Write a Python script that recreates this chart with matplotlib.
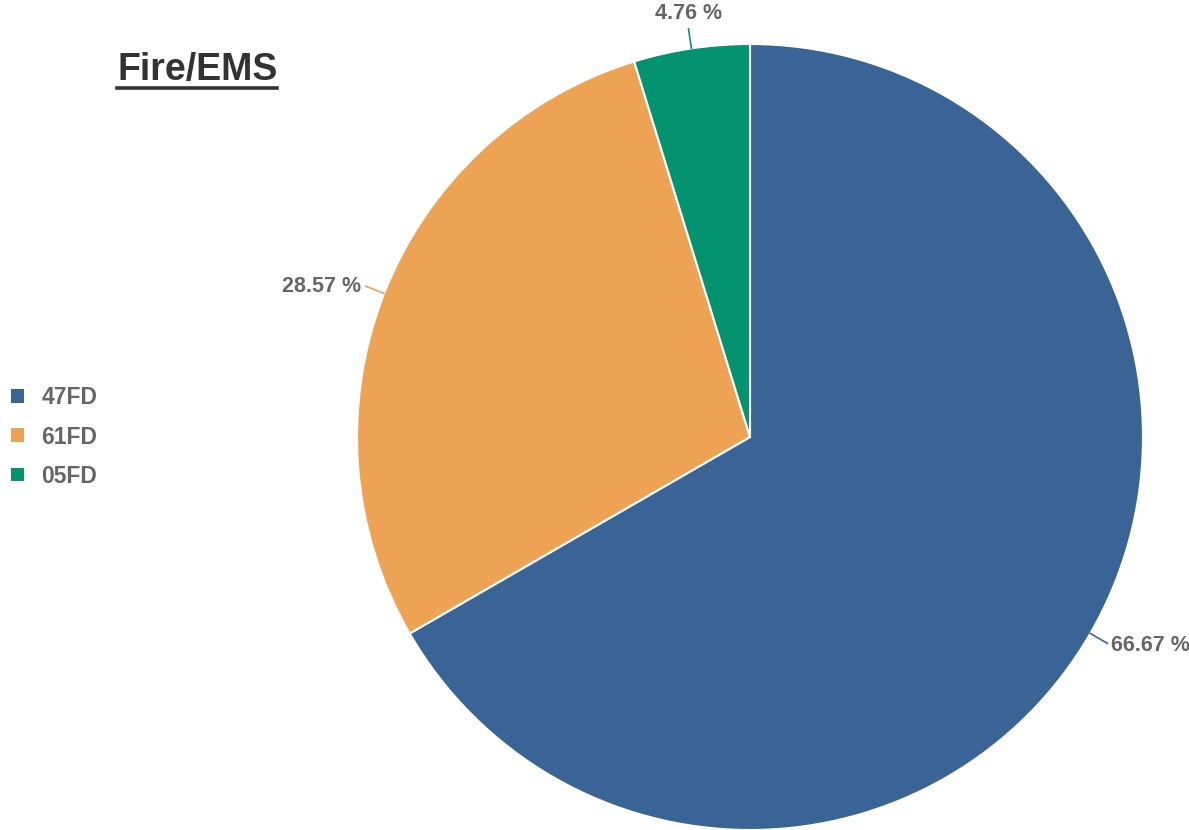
import numpy as np
import matplotlib
matplotlib.use("Agg")
import matplotlib.pyplot as plt

categories = ["47FD", "61FD", "05FD"]
values = [14, 6, 1]
pct_labels = ["66.67 %", "28.57 %", "4.76 %"]
colors = ["#3A6496", "#EDA254", "#03936F"]
title = "Fire/EMS"

W, H = 1189, 830
fig = plt.figure(figsize=(W / 100, H / 100), dpi=100)
plt.rcParams['font.family'] = ['Liberation Sans', 'DejaVu Sans']

cx, cy, R = 750, 437, 393
ax = fig.add_axes([(cx - R) / W, (H - cy - R) / H, 2 * R / W, 2 * R / H])
wedges, _ = ax.pie(values, colors=colors, startangle=90, counterclock=False,
                   radius=1.0, wedgeprops=dict(edgecolor="white", linewidth=1.5))
ax.set_xlim(-1, 1)
ax.set_ylim(-1, 1)
ax.set_aspect('equal')
ax.axis('off')

for w, lab, col in zip(wedges, pct_labels, colors):
    theta1, theta2 = w.theta1, w.theta2
    mid = np.deg2rad((theta1 + theta2) / 2)
    x0, y0 = np.cos(mid), np.sin(mid)
    x1, y1 = 1.05 * x0, 1.05 * y0
    ax.plot([x0, x1], [y0, y1], color=col, lw=1.2, clip_on=False)
    if abs(x0) < 0.3:
        ax.text(x1, y1 + 0.012, lab, ha='center', va='bottom', fontsize=15.5,
                fontweight='bold', color='#666666')
    elif x0 < 0:
        ax.text(x1 - 0.012, y1, lab, ha='right', va='center', fontsize=15.5,
                fontweight='bold', color='#666666')
    else:
        ax.text(x1 + 0.008, y1 - 0.005, lab, ha='left', va='center', fontsize=15.5,
                fontweight='bold', color='#666666')

# Title with underline
t = fig.text(117 / W, 1 - 80 / H, title, ha='left', va='baseline', fontsize=27,
             fontweight='bold', color='#333333')
fig.canvas.draw()
bb = t.get_window_extent()
fig.add_artist(plt.Line2D([bb.x0 / W, bb.x1 / W], [1 - 88.5 / H, 1 - 88.5 / H],
                          color='#333333', lw=2.6, transform=fig.transFigure))

leg = fig.legend(wedges, categories, loc='center left',
                 bbox_to_anchor=(0.0, 1 - 437 / H), frameon=False,
                 prop=dict(size=16.5, weight='bold'), handlelength=0.55,
                 handleheight=0.55, handletextpad=0.75, labelspacing=0.7,
                 borderaxespad=0.1, borderpad=0.4)
for txt in leg.get_texts():
    txt.set_color('#666666')
for h in leg.legend_handles:
    h.set_edgecolor('none')

fig.savefig("out.png", dpi=100)
